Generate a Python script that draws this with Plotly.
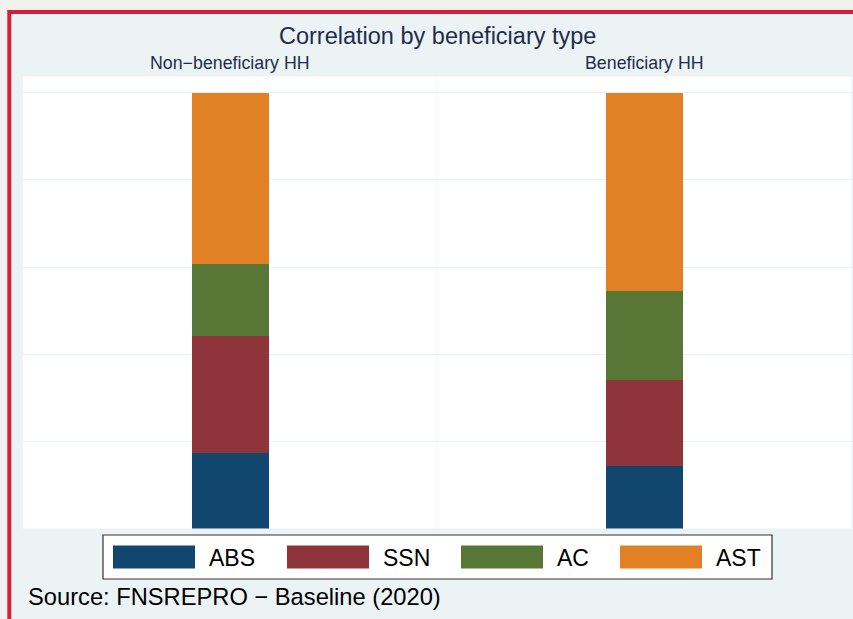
import plotly.graph_objects as go

# ---- data ----
panels = ["Non−beneficiary HH", "Beneficiary HH"]
series = ["ABS", "SSN", "AC", "AST"]
abs_vals = [17.4, 14.4]
ssn_vals = [26.8, 19.7]
ac_vals = [16.7, 20.5]
ast_vals = [39.1, 45.4]
values = {"ABS": abs_vals, "SSN": ssn_vals, "AC": ac_vals, "AST": ast_vals}
colors = {"ABS": "#11466E", "SSN": "#8F343B", "AC": "#587635", "AST": "#E28026"}
title_text = "Correlation by beneficiary type"
source_text = "Source: FNSREPRO − Baseline (2020)"

W, H = 853, 619
def px(x):
    return x / W
def py(y):
    return 1 - y / H

FONT = "Liberation Sans, Arial, Helvetica, sans-serif"
NAVY = "#1F2D4D"

fig = go.Figure()

axis_names = ["x", "x2"]
for i, p in enumerate(panels):
    for s in series:
        fig.add_trace(go.Bar(
            x=[p], y=[values[s][i]], name=s,
            marker=dict(color=colors[s], line=dict(width=0)),
            width=0.186, showlegend=False,
            xaxis=axis_names[i], yaxis="y" if i == 0 else "y2",
        ))

plot_top, plot_bot = 76.5, 528.5
left_l, mid, right_r = 22.7, 436.7, 851.3
yrange = [0, 103.72]

common_y = dict(range=yrange, showticklabels=False, showgrid=True, gridcolor="#E8F1F3",
                gridwidth=1, dtick=20, tick0=0, zeroline=False, showline=False, ticks="")
common_x = dict(showticklabels=False, showgrid=False, zeroline=False, showline=False,
                ticks="", range=[-0.5, 0.5], type="category")

fig.update_layout(
    width=W, height=H, autosize=False,
    margin=dict(l=0, r=0, t=0, b=0),
    paper_bgcolor="#F2F1ED", plot_bgcolor="rgba(0,0,0,0)",
    barmode="stack", bargap=0,
    xaxis=dict(domain=[px(left_l), px(mid)], anchor="y", **common_x),
    xaxis2=dict(domain=[px(mid), px(right_r)], anchor="y2", **common_x),
    yaxis=dict(domain=[py(plot_bot), py(plot_top)], anchor="x", **common_y),
    yaxis2=dict(domain=[py(plot_bot), py(plot_top)], anchor="x2", **common_y),
    font=dict(family=FONT),
)

shapes = [
    # red frame
    dict(type="rect", xref="paper", yref="paper", x0=px(7.3), x1=1.05, y0=-0.05, y1=py(10),
         fillcolor="#D61E39", line=dict(width=0), layer="below"),
    # light blue background
    dict(type="rect", xref="paper", yref="paper", x0=px(11.3), x1=1.05, y0=-0.05, y1=py(14),
         fillcolor="#EBF3F5", line=dict(width=0), layer="below"),
    # white plot region
    dict(type="rect", xref="paper", yref="paper", x0=px(left_l), x1=px(right_r),
         y0=py(plot_bot), y1=py(plot_top), fillcolor="#FFFFFF", line=dict(width=0), layer="below"),
    # panel divider
    dict(type="line", xref="paper", yref="paper", x0=px(mid), x1=px(mid), y0=py(plot_bot), y1=py(plot_top),
         line=dict(color="#F3F6F7", width=1), layer="below"),
    # legend box
    dict(type="rect", xref="paper", yref="paper", x0=px(103), x1=px(772), y0=py(579), y1=py(535),
         fillcolor="#FFFFFF", line=dict(color="#333333", width=1.2)),
]

annotations = [
    dict(text=title_text, x=px(437), y=py(36), xref="paper", yref="paper", showarrow=False,
         xanchor="center", yanchor="middle", font=dict(size=23.5, color=NAVY, family=FONT)),
    dict(text=source_text, x=px(26), y=py(597), xref="paper", yref="paper", showarrow=False,
         xanchor="left", yanchor="middle", font=dict(size=23.7, color="#000000", family=FONT)),
]
panel_centres = [230, 644]
for p, cx in zip(panels, panel_centres):
    annotations.append(dict(text=p, x=px(cx), y=py(63), xref="paper", yref="paper", showarrow=False,
                            xanchor="center", yanchor="middle", font=dict(size=17.8, color=NAVY, family=FONT)))

legend_x = [113, 287, 461, 620]
for s, lx in zip(series, legend_x):
    shapes.append(dict(type="rect", xref="paper", yref="paper", x0=px(lx), x1=px(lx + 82),
                       y0=py(568.5), y1=py(545.5), fillcolor=colors[s], line=dict(width=0)))
    annotations.append(dict(text=s, x=px(lx + 94), y=py(558), xref="paper", yref="paper", showarrow=False,
                            xanchor="left", yanchor="middle", font=dict(size=23, color="#000000", family=FONT)))

fig.update_layout(shapes=shapes, annotations=annotations)
fig.write_html("out.html", config={"displayModeBar": False},
               post_script="document.body.style.margin='0';document.body.style.padding='0';document.body.style.overflow='hidden';")
